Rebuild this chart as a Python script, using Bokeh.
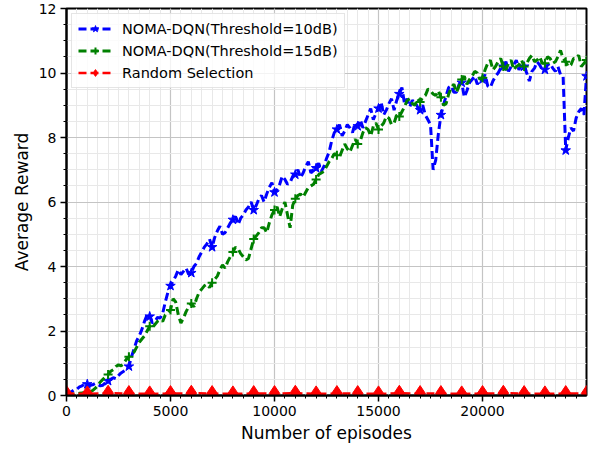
from bokeh.plotting import figure
from bokeh.models import Range1d, SingleIntervalTicker, Legend, LegendItem, ColumnDataSource
from bokeh.embed import file_html
from bokeh.resources import INLINE

# ---------------- data ----------------
# one value every 125 episodes, 0 .. 25000 (each row = 1000 episodes)
episodes = [i * 125 for i in range(201)]

dqn_10db = [
    0.05, 0.10, 0.12, 0.18, 0.20, 0.27, 0.30, 0.36,
    0.35, 0.31, 0.33, 0.37, 0.34, 0.30, 0.32, 0.40,
    0.45, 0.50, 0.55, 0.52, 0.62, 0.70, 0.75, 0.80,
    0.90, 1.20, 1.45, 1.70, 1.85, 2.05, 2.30, 2.50,
    2.45, 2.25, 2.30, 2.42, 2.40, 2.55, 2.90, 3.20,
    3.40, 3.55, 3.70, 3.90, 3.75, 3.85, 3.95, 3.75,
    3.80, 4.00, 4.10, 4.30, 4.45, 4.60, 4.70, 4.85,
    4.60, 4.90, 5.10, 5.25, 5.00, 5.05, 5.20, 5.35,
    5.45, 5.55, 5.30, 5.50, 5.60, 5.75, 5.85, 6.00,
    5.75, 5.90, 6.10, 6.20, 6.00, 6.25, 6.45, 6.60,
    6.30, 6.40, 6.55, 6.80, 6.70, 6.55, 6.60, 6.80,
    6.85, 7.00, 6.75, 6.90, 7.10, 7.25, 6.90, 7.00,
    7.05, 7.20, 6.95, 7.10, 7.35, 7.55, 7.90, 8.15,
    8.25, 8.40, 8.05, 8.20, 8.40, 8.30, 8.15, 8.45,
    8.35, 8.55, 8.30, 8.50, 8.70, 8.90, 8.55, 8.75,
    8.90, 9.10, 8.70, 8.85, 9.05, 9.20, 8.85, 9.15,
    9.35, 9.55, 9.05, 9.20, 8.95, 9.15, 9.10, 8.95,
    8.85, 9.00, 8.70, 8.55, 8.40, 7.00, 7.30, 8.10,
    8.70, 9.00, 9.30, 9.55, 9.60, 9.40, 9.40, 9.65,
    9.70, 9.25, 9.45, 9.70, 9.80, 9.90, 9.65, 9.80,
    9.80, 9.95, 9.60, 9.55, 9.75, 9.90, 10.00, 10.15,
    10.20, 10.35, 10.05, 10.20, 10.25, 10.40, 10.10, 10.25,
    10.20, 10.00, 9.75, 10.05, 10.15, 10.35, 10.25, 10.10,
    10.10, 10.25, 10.30, 10.15, 10.05, 10.20, 9.95, 9.90,
    7.60, 8.00, 8.30, 8.20, 8.60, 8.80, 8.90, 8.70,
    9.90,
]

dqn_15db = [
    0.03, 0.04, 0.05, 0.05, 0.06, 0.07, 0.08, 0.09,
    0.10, 0.12, 0.15, 0.22, 0.30, 0.42, 0.50, 0.58,
    0.65, 0.75, 0.80, 0.90, 0.95, 0.92, 1.00, 1.12,
    1.20, 1.28, 1.35, 1.50, 1.65, 1.75, 1.85, 2.00,
    2.15, 2.10, 2.20, 2.30, 2.35, 2.30, 2.50, 2.55,
    2.65, 3.00, 2.90, 2.50, 2.25, 2.40, 2.60, 2.75,
    2.85, 2.75, 3.00, 3.20, 3.30, 3.40, 3.45, 3.35,
    3.50, 3.60, 3.70, 3.90, 4.05, 3.95, 4.15, 4.30,
    4.45, 4.60, 4.55, 4.40, 4.30, 4.20, 4.25, 4.55,
    4.85, 4.95, 5.05, 5.20, 5.20, 5.05, 5.35, 5.60,
    5.75, 5.85, 5.55, 5.80, 6.00, 5.60, 5.20, 5.90,
    6.10, 6.20, 6.25, 6.15, 6.30, 6.45, 6.50, 6.55,
    6.70, 6.85, 6.90, 6.95, 7.10, 7.25, 7.35, 7.50,
    7.45, 7.40, 7.60, 7.80, 7.65, 7.55, 7.75, 7.95,
    7.80, 7.90, 8.15, 8.30, 8.25, 8.05, 8.35, 8.45,
    8.25, 8.35, 8.45, 8.65, 8.60, 8.40, 8.45, 8.70,
    8.65, 8.80, 8.95, 9.15, 9.20, 9.05, 9.00, 9.20,
    9.10, 9.25, 9.30, 9.50, 9.45, 9.35, 9.30, 9.45,
    9.25, 9.00, 9.05, 9.35, 9.55, 9.65, 9.40, 9.60,
    9.80, 9.90, 9.65, 9.80, 9.90, 10.05, 10.00, 9.80,
    9.85, 10.10, 10.30, 10.40, 10.10, 10.20, 10.35, 10.45,
    10.20, 10.10, 10.30, 10.40, 10.10, 10.20, 10.25, 10.40,
    10.20, 10.30, 10.45, 10.55, 10.35, 10.40, 10.50, 10.30,
    10.30, 10.50, 10.45, 10.30, 10.35, 10.50, 10.70, 10.45,
    10.35, 10.20, 10.25, 10.45, 10.45, 10.55, 10.20, 10.30,
    10.40,
]

random_episodes = [i * 1000 for i in range(26)]
random_sel = [
    0.06, 0.05, 0.07, 0.06, 0.05, 0.06, 0.07, 0.06, 0.05, 0.06,
    0.06, 0.07, 0.05, 0.06, 0.06, 0.05, 0.07, 0.06, 0.06, 0.05,
    0.06, 0.07, 0.06, 0.05, 0.06, 0.06,
]

series_labels = ["NOMA-DQN(Threshold=10dB)", "NOMA-DQN(Threshold=15dB)", "Random Selection"]
x_label = "Number of episodes"
y_label = "Average Reward"

FONT = "DejaVu Sans"

p = figure(width=593, height=449,
           x_range=Range1d(0, 24999), y_range=Range1d(0, 12),
           output_backend="svg", toolbar_location=None,
           min_border_left=66, min_border_right=7, min_border_top=8, min_border_bottom=54)

p.background_fill_color = "white"
p.border_fill_color = "white"
p.outline_line_color = "black"
p.outline_line_width = 2

p.xaxis.ticker = SingleIntervalTicker(interval=5000, num_minor_ticks=10)
p.yaxis.ticker = SingleIntervalTicker(interval=2, num_minor_ticks=4)

for grid in (p.xgrid, p.ygrid):
    grid.grid_line_color = "#c4c4c4"
    grid.grid_line_width = 1.2
    grid.minor_grid_line_color = "#e8e8e8"
    grid.minor_grid_line_width = 1

for ax in (p.xaxis, p.yaxis):
    ax.axis_line_width = 2
    ax.axis_line_color = "black"
    ax.major_tick_line_width = 1.5
    ax.major_tick_line_color = "black"
    ax.major_tick_out = 6
    ax.major_tick_in = 0
    ax.minor_tick_line_width = 1
    ax.minor_tick_line_color = "black"
    ax.minor_tick_out = 3
    ax.minor_tick_in = 0
    ax.major_label_text_font = FONT
    ax.major_label_text_font_size = "14px"
    ax.major_label_text_color = "black"
    ax.axis_label_text_font = FONT
    ax.axis_label_text_font_size = "17px"
    ax.axis_label_text_font_style = "normal"
    ax.axis_label_text_color = "black"
    ax.major_label_standoff = 4
    ax.axis_label_standoff = 4

p.xaxis.axis_label = x_label
p.yaxis.axis_label = y_label

src_b = ColumnDataSource(dict(x=episodes, y=dqn_10db))
src_bm = ColumnDataSource(dict(x=episodes[::8], y=dqn_10db[::8]))
src_g = ColumnDataSource(dict(x=episodes, y=dqn_15db))
src_gm = ColumnDataSource(dict(x=episodes[::8], y=dqn_15db[::8]))
src_r = ColumnDataSource(dict(x=random_episodes, y=random_sel))

bl = p.line("x", "y", source=src_b, line_color="blue", line_width=3, line_dash="8 4")
bm = p.scatter("x", "y", source=src_bm, marker="star", size=10, fill_color="blue", line_color="blue")
gl = p.line("x", "y", source=src_g, line_color="green", line_width=3, line_dash="8 4")
gm = p.scatter("x", "y", source=src_gm, marker="cross", size=9, line_color="green", line_width=2)
rl = p.line("x", "y", source=src_r, line_color="red", line_width=2.5, line_dash="8 4")
rm = p.scatter("x", "y", source=src_r, marker="diamond", size=16, fill_color="red", line_color="red")

legend = Legend(items=[
    LegendItem(label=series_labels[0], renderers=[bl, bm]),
    LegendItem(label=series_labels[1], renderers=[gl, gm]),
    LegendItem(label=series_labels[2], renderers=[rl, rm]),
], location="top_left")
legend.label_text_font = FONT
legend.label_text_font_size = "14.5px"
legend.label_text_color = "black"
legend.glyph_width = 34
legend.glyph_height = 17
legend.label_height = 17
legend.label_standoff = 10
legend.spacing = 5
legend.padding = 6
legend.margin = 5
legend.border_line_color = "#cccccc"
legend.border_line_width = 1
legend.background_fill_alpha = 0.8
p.add_layout(legend)

open("out.html", "w").write(file_html(p, INLINE))
